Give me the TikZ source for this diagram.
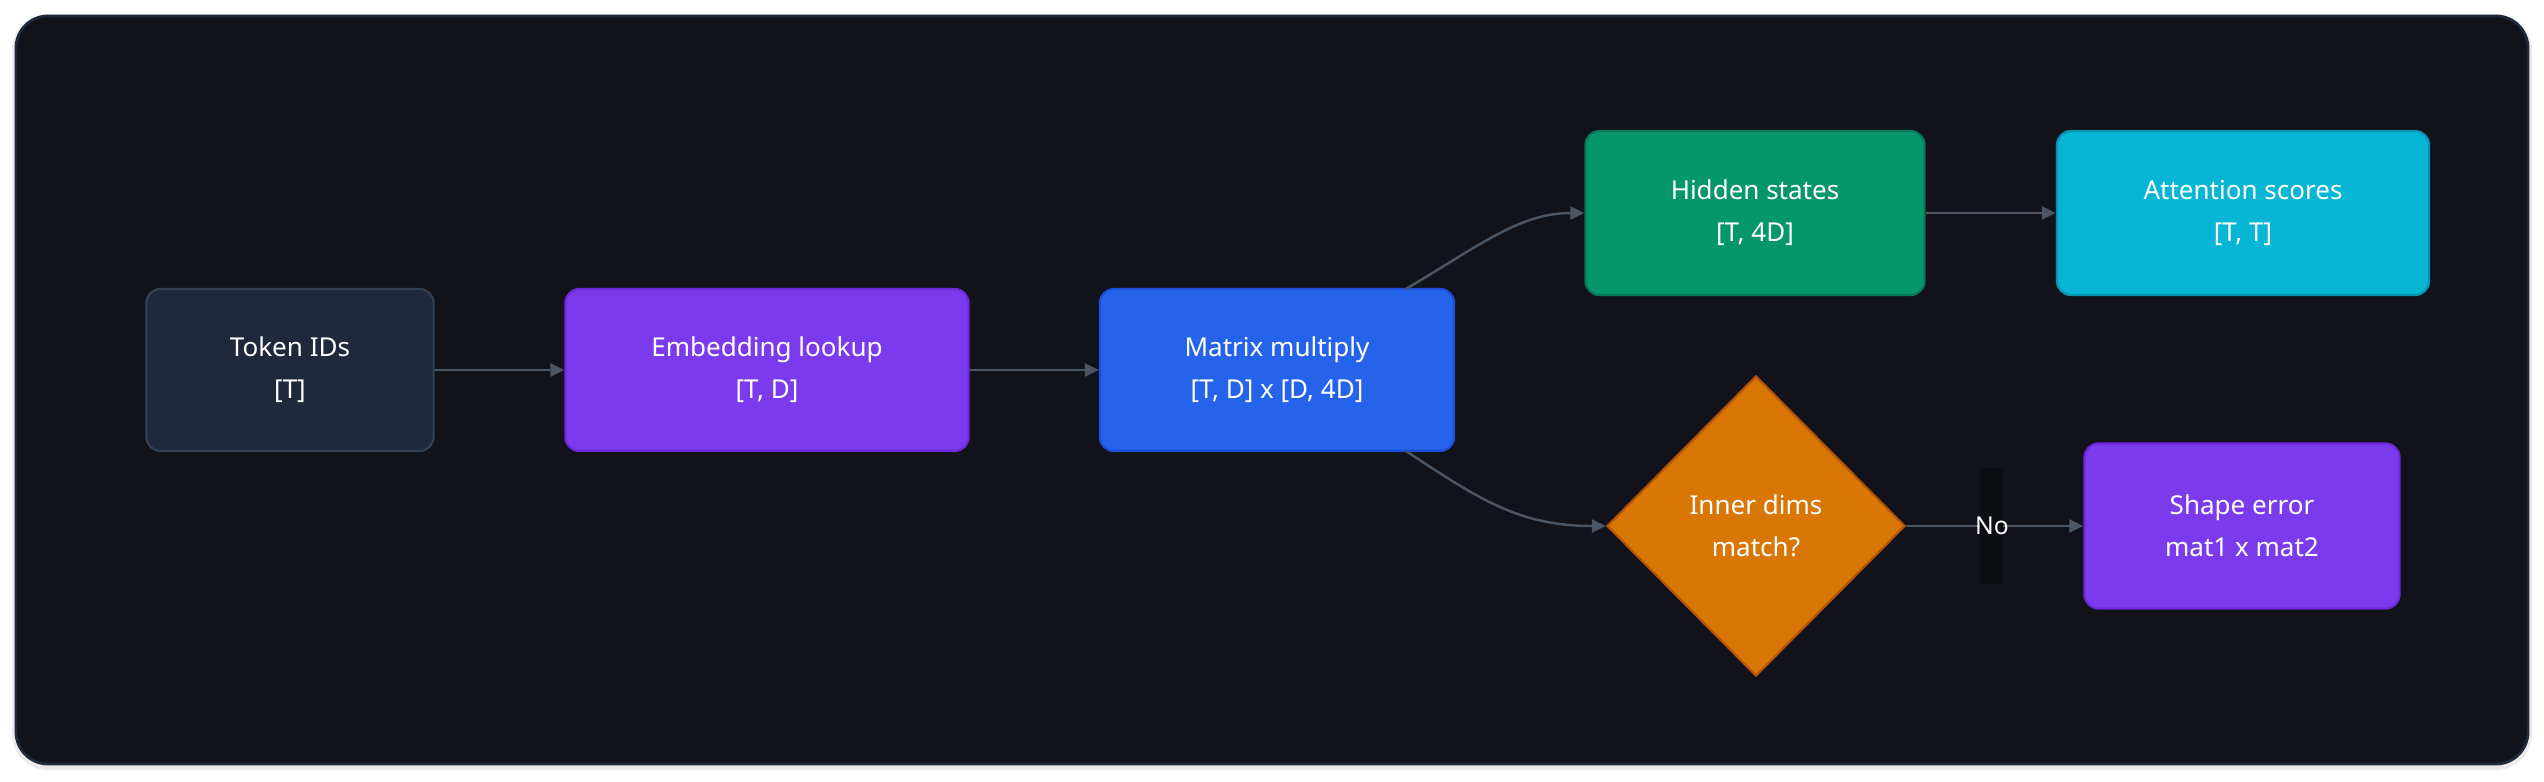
\documentclass[tikz,border=0pt]{standalone}
\usepackage{fontspec}
\setmainfont{Noto Sans}
\usetikzlibrary{shapes.geometric,arrows.meta}
\definecolor{bgc}{HTML}{12131A}
\definecolor{edgec}{HTML}{4B5563}
\definecolor{labbg}{HTML}{0D0E12}
\tikzset{
 x=0.01cm,y=-0.01cm,
 box/.style={rounded corners=0.14cm,draw,line width=0.6pt,align=center,text=white,font=\fontsize{7.4}{12}\selectfont,inner sep=0},
 conn/.style={draw=edgec,line width=0.7pt,-{Triangle[length=0.14cm,width=0.13cm]}},
}
\begin{document}
\begin{tikzpicture}
\fill[white] (0,0) rectangle (2544,782);
\useasboundingbox (0,0) rectangle (2544,782);
\fill[black!8,rounded corners=0.36cm] (12,14) rectangle (2532,770);
\draw[fill=bgc,draw={rgb,255:red,30;green,41;blue,59},line width=0.8pt,rounded corners=0.32cm] (16,16) rectangle (2528,764);
\node[box,fill={rgb,255:red,30;green,41;blue,59},draw={rgb,255:red,51;green,65;blue,85},minimum width=2.87cm,minimum height=1.62cm] (tok) at (290,370) {Token IDs\\{[}T{]}};
\node[box,fill={rgb,255:red,124;green,58;blue,237},draw={rgb,255:red,109;green,40;blue,217},minimum width=4.03cm,minimum height=1.62cm] (emb) at (767,370) {Embedding lookup\\{[}T, D{]}};
\node[box,fill={rgb,255:red,37;green,99;blue,235},draw={rgb,255:red,29;green,78;blue,216},minimum width=3.54cm,minimum height=1.62cm] (mat) at (1277,370) {Matrix multiply\\{[}T, D{]} x {[}D, 4D{]}};
\node[box,fill={rgb,255:red,5;green,150;blue,105},draw={rgb,255:red,4;green,120;blue,87},minimum width=3.39cm,minimum height=1.64cm] (hid) at (1755,213) {Hidden states\\{[}T, 4D{]}};
\node[box,fill={rgb,255:red,6;green,182;blue,212},draw={rgb,255:red,8;green,145;blue,178},minimum width=3.72cm,minimum height=1.64cm] (att) at (2243,213) {Attention scores\\{[}T, T{]}};
\node[box,fill={rgb,255:red,124;green,58;blue,237},draw={rgb,255:red,109;green,40;blue,217},minimum width=3.15cm,minimum height=1.65cm] (err) at (2242,526) {Shape error\\mat1 x mat2};
\node[diamond,draw={rgb,255:red,180;green,83;blue,9},fill={rgb,255:red,217;green,119;blue,6},line width=0.6pt,minimum width=2.98cm,minimum height=3.0cm,inner sep=0,align=center,text=white,font=\fontsize{7.4}{12}\selectfont] (dia) at (1756,526) {Inner dims\\match?};
\coordinate (mt) at (1406,289);
\coordinate (mb) at (1406,451);
\draw[conn] (tok.east) -- (emb.west);
\draw[conn] (emb.east) -- (mat.west);
\draw[conn] (mt) .. controls (1480,245) and (1520,213) .. (hid.west);
\draw[conn] (mb) .. controls (1480,500) and (1520,526) .. (dia.west);
\draw[conn] (hid.east) -- (att.west);
\draw[conn] (dia.east) -- (err.west);
\fill[labbg] (1980,468) rectangle (2003,584);
\node[text=white,font=\fontsize{7}{8}\selectfont,inner sep=0] (no) at (1992,526) {No};
\end{tikzpicture}
\end{document}
